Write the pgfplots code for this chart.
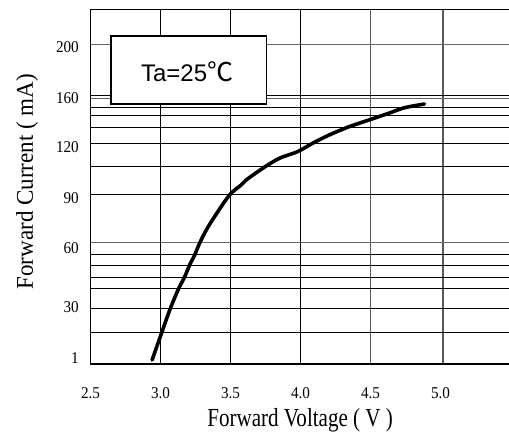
\documentclass[border=0pt]{standalone}
\usepackage{pgfplots}
\pgfplotsset{compat=1.18}
\usepackage{fontspec}
\setmainfont{Liberation Serif}
\newfontfamily\sansf{Liberation Sans}
\newfontfamily\cjk{Noto Sans CJK SC}
\newfontfamily\xlabfont[FakeStretch=0.81]{Liberation Serif}
\newfontfamily\ylabfont[FakeStretch=0.96]{Liberation Serif}
\newfontfamily\tickfont[FakeStretch=0.92]{Liberation Serif}
\begin{document}
\begin{tikzpicture}
\path[use as bounding box] (-90.5pt,-70pt) rectangle (418.5pt,364pt);
\begin{axis}[
  at={(0pt,0pt)}, anchor=south west,
  scale only axis, width=418.5pt, height=354.5pt,
  xmin=2.5, xmax=5.48929, ymin=0, ymax=354.5,
  axis x line*=box, axis y line*=left,
  axis line style={line width=1.8pt, black},
  major tick length=0pt, minor tick length=0pt,
  /pgf/number format/assume math mode=true,
  xtick={2.5,3,3.5,4,4.5,5},
  xticklabels={2.5,3.0,3.5,4.0,4.5,5.0},
  extra x ticks={3,3.5,4},
  extra x tick labels={},
  extra x tick style={grid=major, major grid style={black, line width=1.2pt}},
  minor xtick={4.5,5.0179},
  xminorgrids,
  minor x grid style={black!65, line width=1.2pt},
  ytick={6,56.5,116,166,217,265.7,316.5},
  yticklabels={1,30,60,90,120,160,200},
  extra y ticks={31.5,55.5,75.5,86.5,98.5,109.5,169.5,197.5,220.5,236.5,248.5,256.5,268.5},
  extra y tick labels={},
  extra y tick style={grid=major, major grid style={black, line width=1.2pt}},
  minor ytick={121.5,265.5,319.5},
  yminorgrids,
  minor y grid style={black!60, line width=1.2pt},
  tick label style={font=\fontsize{16.5}{16.5}\selectfont\tickfont, inner sep=0pt},
  xticklabel style={anchor=north, yshift=-23pt},
  yticklabel style={anchor=east, xshift=-11.5pt},
  xlabel={\xlabfont Forward Voltage ( V )},
  xlabel style={font=\fontsize{26}{26}\selectfont, at={(axis description cs:0.501,-0.1776)}, anchor=base},
  ylabel={\ylabfont Forward Current ( mA)},
  ylabel style={font=\fontsize{24}{24}\selectfont, at={(axis description cs:-0.1376,0.5145)}, anchor=base, rotate=0},
  clip=false,
]
\addplot[black, line width=3.6pt, line cap=round, line join=round, smooth, tension=0.5] coordinates {
(2.940,4) (3.007,30.7) (3.066,54) (3.125,74) (3.173,87.3) (3.208,99) (3.244,109)
(3.279,120.7) (3.327,134) (3.386,147.3) (3.493,169) (3.576,179) (3.612,184)
(3.730,195.7) (3.849,205.7) (3.979,212.3) (4.086,220.7) (4.205,229) (4.347,237.3)
(4.489,244) (4.630,250.7) (4.744,256.3) (4.886,260)
};
\draw[fill=white, line width=1.6pt] (axis cs:2.646,260) rectangle (axis cs:3.756,328);
\node[font=\fontsize{24}{24}\selectfont] at (axis cs:3.19,292) {\sansf Ta=25\cjk\fontsize{26}{26}\selectfont ℃};
\end{axis}
\end{tikzpicture}
\end{document}
